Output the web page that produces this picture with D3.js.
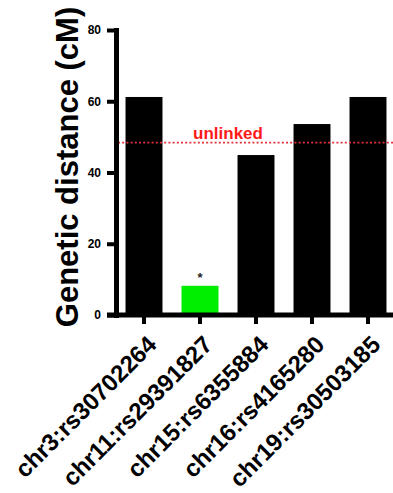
<!DOCTYPE html>
<html>
<head>
<meta charset="utf-8">
<script src="https://cdn.jsdelivr.net/npm/d3@7/dist/d3.min.js"></script>
<style>
  html, body { margin: 0; padding: 0; background: #fff; }
  svg { display: block; font-family: "Liberation Sans", Arial, sans-serif; }
</style>
</head>
<body>
<svg id="chart"></svg>
<script>
// Data
const markers = ['chr3:rs30702264', 'chr11:rs29391827', 'chr15:rs6355884', 'chr16:rs4165280', 'chr19:rs30503185'];
const distances = [61.2, 8.2, 44.9, 53.6, 61.2];
const barColors = ['#000000', '#00ee00', '#000000', '#000000', '#000000'];
const significant = [false, true, false, false, false];
const yTicks = [0, 20, 40, 60, 80];
const unlinkedThreshold = 48.4;

const width = 393;
const height = 493;

const svg = d3.select('#chart')
    .attr('width', width)
    .attr('height', height);

// Scales
const x = d3.scaleBand()
    .domain(markers)
    .range([116, 396])
    .paddingInner(0.34)
    .paddingOuter(0.17);

const y = d3.scaleLinear()
    .domain([0, 80])
    .range([315, 30]);

const rows = markers.map((m, i) => ({
    marker: m,
    value: distances[i],
    color: barColors[i],
    star: significant[i]
}));

// Bars
svg.append('g')
    .selectAll('rect')
    .data(rows)
    .enter()
    .append('rect')
    .attr('x', d => x(d.marker))
    .attr('y', d => y(d.value))
    .attr('width', x.bandwidth())
    .attr('height', d => y(0) - y(d.value))
    .attr('fill', d => d.color);

// Significance star
svg.append('g')
    .selectAll('text')
    .data(rows.filter(d => d.star))
    .enter()
    .append('text')
    .attr('x', d => x(d.marker) + x.bandwidth() / 2)
    .attr('y', d => y(d.value) - 4)
    .attr('text-anchor', 'middle')
    .attr('font-size', '13px')
    .attr('font-weight', 'bold')
    .attr('fill', '#222')
    .text('*');

// Unlinked threshold line
svg.append('line')
    .attr('x1', 118)
    .attr('x2', width)
    .attr('y1', y(unlinkedThreshold))
    .attr('y2', y(unlinkedThreshold))
    .attr('stroke', '#e0303c')
    .attr('stroke-width', 1.6)
    .attr('stroke-dasharray', '2,2.2');

svg.append('text')
    .attr('x', 228)
    .attr('y', y(unlinkedThreshold) - 4)
    .attr('text-anchor', 'middle')
    .attr('font-size', '17px')
    .attr('font-weight', 'bold')
    .attr('fill', '#ff1a1a')
    .text('unlinked');

// Y axis
const yAxis = svg.append('g')
    .attr('transform', 'translate(116,0)')
    .call(d3.axisLeft(y).tickValues(yTicks).tickSize(9).tickSizeOuter(0).tickPadding(6));

yAxis.select('.domain')
    .attr('stroke', '#000')
    .attr('stroke-width', 5)
    .attr('stroke-linecap', 'square');
yAxis.selectAll('.tick line')
    .attr('stroke', '#000')
    .attr('stroke-width', 4);
yAxis.selectAll('.tick text')
    .attr('font-family', '"Liberation Sans", Arial, sans-serif')
    .attr('font-size', '12px')
    .attr('font-weight', 'bold')
    .attr('fill', '#000');

// X axis
const xAxis = svg.append('g')
    .attr('transform', 'translate(0,315)')
    .call(d3.axisBottom(x).tickSize(9).tickSizeOuter(0).tickFormat(''));

xAxis.select('.domain').remove();
xAxis.append('line')
    .attr('x1', 107)
    .attr('x2', width)
    .attr('stroke', '#000')
    .attr('stroke-width', 5);
xAxis.selectAll('.tick line')
    .attr('stroke', '#000')
    .attr('stroke-width', 4);

// Rotated category labels
svg.append('g')
    .selectAll('text')
    .data(markers)
    .enter()
    .append('text')
    .attr('transform', d => `translate(${x(d) + x.bandwidth() / 2 + 14},346) rotate(-45)`)
    .attr('text-anchor', 'end')
    .attr('font-size', '24px')
    .attr('font-weight', 'bold')
    .attr('fill', '#000')
    .text(d => d);

// Y axis title
svg.append('text')
    .attr('transform', 'translate(78,167) rotate(-90)')
    .attr('text-anchor', 'middle')
    .attr('font-size', '31px')
    .attr('font-weight', 'bold')
    .attr('fill', '#000')
    .text('Genetic distance (cM)');
</script>
</body>
</html>
